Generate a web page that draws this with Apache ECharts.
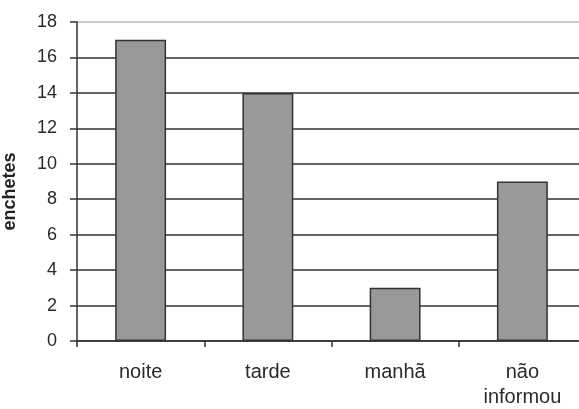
<!DOCTYPE html>
<html>
<head>
<meta charset="utf-8">
<script src="https://cdn.jsdelivr.net/npm/echarts@6/dist/echarts.min.js"></script>
<style>
  html, body { margin: 0; padding: 0; background: #fff; }
  #chart { width: 579px; height: 409px; }
</style>
</head>
<body>
<div id="chart"></div>
<script>
// Períodos do dia e número de enchentes registradas em cada um
const categories = ['noite', 'tarde', 'manhã', 'não\ninformou'];
const enchentes = [17, 14, 3, 9];
const yTicks = { min: 0, max: 18, interval: 2 };

const font = 'Liberation Sans, Arial, sans-serif';
const chart = echarts.init(document.getElementById('chart'));
chart.setOption({
  animation: false,
  grid: { left: 77, top: 22, width: 509, height: 319, containLabel: false, outerBoundsMode: 'none' },
  xAxis: {
    type: 'category',
    data: categories,
    axisLine: { lineStyle: { color: '#333', width: 1.5 } },
    axisTick: { show: true, length: 6, lineStyle: { color: '#333', width: 1.5 } },
    axisLabel: { color: '#2a2a2a', fontFamily: font, fontSize: 20, margin: 19, lineHeight: 25 }
  },
  yAxis: {
    type: 'value',
    min: yTicks.min, max: yTicks.max, interval: yTicks.interval,
    name: 'enchetes',
    nameLocation: 'middle',
    nameGap: 58,
    nameRotate: 90,
    nameTextStyle: { color: '#222', fontFamily: font, fontSize: 18, fontWeight: 'bold', padding: [0, 20, 0, 0] },
    axisLine: { show: true, lineStyle: { color: '#333', width: 1.5 } },
    axisTick: { show: true, length: 7, lineStyle: { color: '#333', width: 1.5 } },
    axisLabel: { color: '#2a2a2a', fontFamily: font, fontSize: 18, margin: 20 },
    splitLine: {
      show: true,
      lineStyle: {
        color: ['#333', '#333', '#333', '#333', '#333', '#333', '#333', '#333', '#333', '#bbb'],
        width: 1.5
      }
    }
  },
  series: [{
    type: 'bar',
    data: enchentes,
    barWidth: '40%',
    itemStyle: { color: '#999999', borderColor: '#333', borderWidth: 1.5 }
  }]
});
</script>
</body>
</html>
